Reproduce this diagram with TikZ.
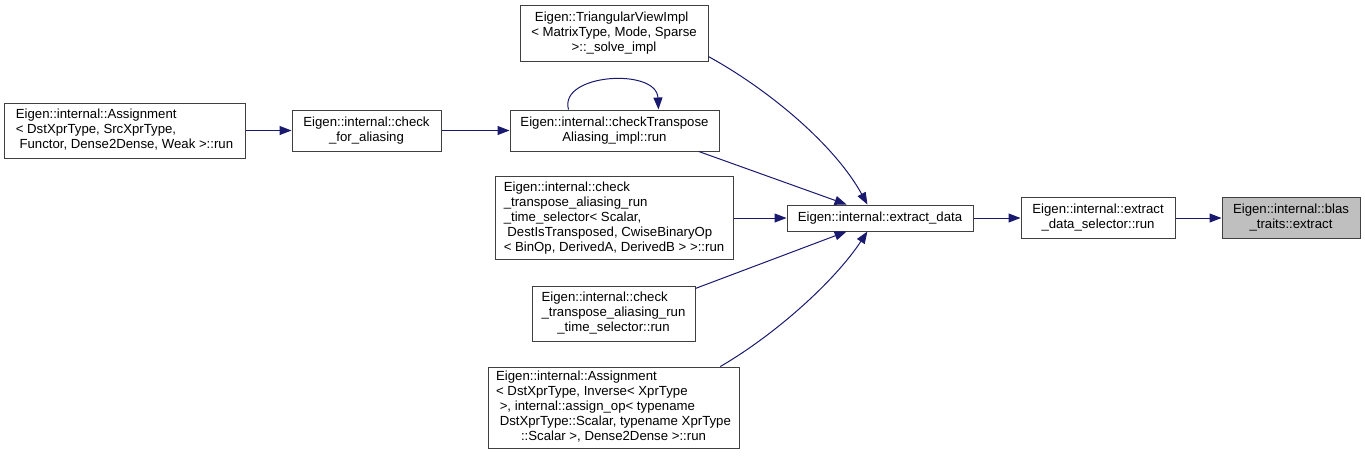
\documentclass[tikz,border=0pt]{standalone}
\usepackage{fontspec}
\setmainfont{Liberation Sans}
\usetikzlibrary{arrows.meta,calc}

\definecolor{edgeblue}{RGB}{25,25,112}
\definecolor{nodeline}{RGB}{64,64,64}
\definecolor{curgray}{RGB}{191,191,191}

% 多行标签: 前几行左对齐, 最后一行居中
\newcommand{\lbl}[1]{\begin{tabular}{@{}l@{}}#1\end{tabular}}
\newcommand{\lastln}[1]{\multicolumn{1}{@{}c@{}}{#1}}

\tikzset{
    blk/.style={draw=nodeline, fill=white, line width=1pt, inner sep=0pt,
        font=\fontsize{13.2}{15}\selectfont},
    cur/.style={fill=curgray},
    callarr/.style={draw=edgeblue, line width=1pt, -{Triangle[length=12pt, width=9pt]}}
}

\begin{document}
\begin{tikzpicture}[x=1pt, y=-1pt]
    % 背景与边界
    \fill[white] (0, 0) rectangle (1365, 456);
    \useasboundingbox (0, 0) rectangle (1365, 456);

    % 左侧两层调用者
    \node[blk, minimum width=241pt, minimum height=55pt] (asg1) at (124.5, 130.5)
        {\lbl{Eigen::internal::Assignment\\< DstXprType, SrcXprType,\\\lastln{\ Functor, Dense2Dense, Weak >::run}}};
    \node[blk, minimum width=149pt, minimum height=41pt] (chkal) at (366.5, 130.5)
        {\lbl{Eigen::internal::check\\\lastln{\_for\_aliasing}}};

    % 中间一列
    \node[blk, minimum width=188pt, minimum height=56pt] (triview) at (614, 33)
        {\lbl{\ Eigen::TriangularViewImpl\\< MatrixType, Mode, Sparse\\\lastln{>::\_solve\_impl}}};
    \node[blk, minimum width=209pt, minimum height=41pt] (ctimpl) at (614.5, 130.5)
        {\lbl{Eigen::internal::checkTranspose\\\lastln{Aliasing\_impl::run}}};
    \node[blk, minimum width=238pt, minimum height=83pt] (selt) at (614, 218)
        {\lbl{Eigen::internal::check\\\_transpose\_aliasing\_run\\\_time\_selector< Scalar,\\\ DestIsTransposed, CwiseBinaryOp\\\lastln{< BinOp, DerivedA, DerivedB > >::run}}};
    \node[blk, minimum width=163pt, minimum height=55pt] (selrun) at (613.5, 313.5)
        {\lbl{Eigen::internal::check\\\_transpose\_aliasing\_run\\\lastln{\_time\_selector::run}}};
    \node[blk, minimum width=251pt, minimum height=81pt] (asg2) at (613.5, 407.5)
        {\lbl{Eigen::internal::Assignment\\< DstXprType, Inverse< XprType\\\ >, internal::assign\_op< typename\\\ DstXprType::Scalar, typename XprType\\\lastln{::Scalar >, Dense2Dense >::run}}};

    % 右侧链
    \node[blk, minimum width=186pt, minimum height=26pt] (exdata) at (880, 218)
        {Eigen::internal::extract\_data};
    \node[blk, minimum width=154pt, minimum height=41pt] (exsel) at (1098, 218)
        {\lbl{Eigen::internal::extract\\\lastln{\_data\_selector::run}}};
    \node[blk, cur, minimum width=138pt, minimum height=41pt] (blas) at (1291, 218)
        {\lbl{Eigen::internal::blas\\\lastln{\_traits::extract}}};

    % 调用箭头
    \draw[callarr] (asg1) -- (chkal);
    \draw[callarr] (chkal) -- (ctimpl);
    \draw[callarr] ($(ctimpl.north)+(-46, 0)$) .. controls ($(ctimpl.north)+(-56, -36)$)
        and ($(ctimpl.north)+(42, -42)$) .. ($(ctimpl.north)+(44, 0)$);
    \draw[callarr] (triview.-14) .. controls +(60, 33) and +(-33, -60) .. (exdata.133);
    \draw[callarr] (ctimpl.-14) -- (exdata.158);
    \draw[callarr] (selt) -- (exdata);
    \draw[callarr] (selrun.17) -- (exdata.202);
    \draw[callarr] (asg2.21) .. controls +(55, -32) and +(-33, 50) .. (exdata.227);
    \draw[callarr] (exdata) -- (exsel);
    \draw[callarr] (exsel) -- (blas);
\end{tikzpicture}
\end{document}
